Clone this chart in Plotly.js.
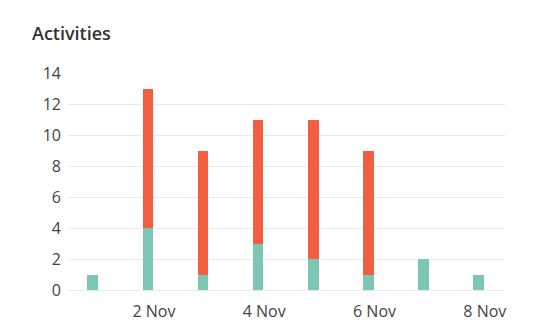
<!DOCTYPE html>
<html><head><meta charset="utf-8">
<script src="https://cdn.plot.ly/plotly-3.0.1.min.js"></script>
<style>html,body{margin:0;padding:0;background:#fff}#chart{width:551px;height:335px}</style>
</head><body><div id="chart"></div>
<script>
const dates = ["2023-11-01","2023-11-02","2023-11-03","2023-11-04","2023-11-05","2023-11-06","2023-11-07","2023-11-08"];
const teal = [1,4,1,3,2,1,2,1];
const orange = [0,9,8,8,9,8,0,0];
const tickVals = ["2023-11-02 02:40","2023-11-04 02:40","2023-11-06 02:40","2023-11-08 02:40"];
const tickText = ["2 Nov","4 Nov","6 Nov","8 Nov"];
const barW = 0.19*86400000;
const data = [
  {type:'bar', x:dates, y:teal, marker:{color:'#7bc6b5'}, width:barW, hoverinfo:'y', name:'A'},
  {type:'bar', x:dates, y:orange, marker:{color:'#f25f40'}, width:barW, hoverinfo:'y', name:'B'}
];
const layout = {
  width:551, height:335, barmode:'stack', showlegend:false,
  margin:{l:68, r:46, t:73, b:45},
  paper_bgcolor:'#fff', plot_bgcolor:'#fff',
  font:{family:'"Open Sans", sans-serif', color:'#444', size:16},
  title:{text:'Activities', x:32/551, xref:'container', xanchor:'left', y:1-34/335, yref:'container', yanchor:'middle',
    font:{size:18, color:'#333', family:'"Open Sans", sans-serif', weight:600}},
  xaxis:{type:'date', range:['2023-10-31 13:15','2023-11-08 11:27'], tickvals:tickVals, ticktext:tickText,
    showgrid:false, zeroline:false, showline:false, ticks:'', ticklabelstandoff:10, tickfont:{size:16, color:'#444'}},
  yaxis:{range:[0,14], dtick:2, gridcolor:'#e6ebf2', gridwidth:1, zeroline:true, zerolinecolor:'#e6ebf2', zerolinewidth:1,
    ticks:'', ticklabelstandoff:6, tickfont:{size:16, color:'#444'}}
};
Plotly.newPlot('chart', data, layout, {displayModeBar:false, staticPlot:true});
</script></body></html>
